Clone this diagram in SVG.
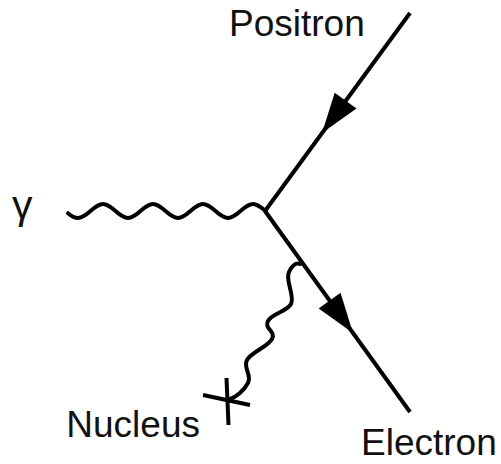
<svg xmlns="http://www.w3.org/2000/svg" width="501" height="464" viewBox="0 0 501 464">
<style>
.lbl{font-family:"Liberation Sans",Arial,Helvetica,sans-serif;font-size:37px;fill:#111}
.ln{fill:none;stroke:#000;stroke-width:4}
.wv{fill:none;stroke:#000;stroke-width:4;stroke-linecap:round}
.ah{fill:#000;stroke:none}
</style>
<rect width="501" height="464" fill="#fff"/>
<g id="connectors">
<path id="positron-line" class="ln" d="M410,13 L265,211"/>
<polygon class="ah" points="322,133 356.5,108.6 334.7,92.7"/>
<path id="electron-line" class="ln" d="M265,211 L410,412"/>
<polygon class="ah" points="353,333 340.5,292.7 318.7,308.5"/>
<path id="photon" class="wv" d="M68,213.2 C71.3,216 74.5,218 78,218 C87.1,218 93.9,204 103,204 C112.1,204 118.9,218 128,218 C137.1,218 143.9,204 153,204 C162.1,204 168.9,218 178,218 C187.1,218 193.9,204 203,204 C212.1,204 218.9,218 228,218 C237.1,218 243.9,204 253,204 C257,204 261.4,207.4 265.5,211"/>
<path id="nucleus-photon" class="wv" d="M300,264 C296,262 291.5,266 289,272 C284.7,279.9 295.3,296.1 291,304 C286.7,311.9 272.3,313.1 268,321 C263.7,328.9 276.3,331.1 272,339 C267.7,346.9 251.3,352.1 247,360 C242.7,367.9 252.3,375.1 248,383 C243.7,390.9 236,397 230,399"/>
</g>
<g id="gamma"><text class="lbl" x="12" y="219" style="font-size:41px">γ</text></g>
<g id="positron"><text class="lbl" x="229" y="36">Positron</text></g>
<g id="electron"><text class="lbl" x="361" y="455">Electron</text></g>
<g id="nucleus">
<line class="ln" x1="203" y1="395" x2="250" y2="405"/>
<line class="ln" x1="226.5" y1="378" x2="228.5" y2="425"/>
<text class="lbl" x="200" y="437" text-anchor="end">Nucleus</text>
</g>
</svg>
